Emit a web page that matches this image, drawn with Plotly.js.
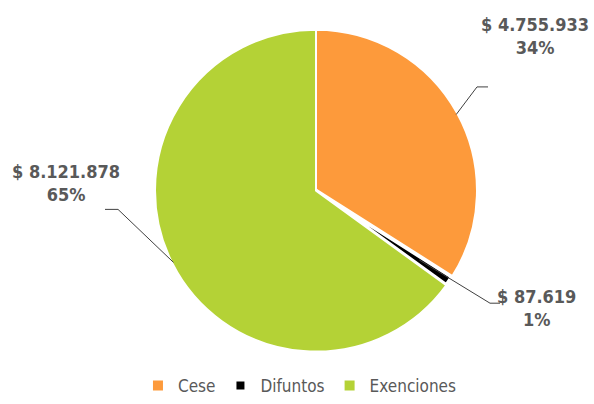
<!DOCTYPE html>
<html><head><meta charset="utf-8">
<script src="https://cdn.plot.ly/plotly-3.0.1.min.js"></script>
<style>html,body{margin:0;padding:0;background:#fff}#chart{width:594px;height:404px}</style>
</head><body><div id="chart"></div>
<script>
const categories = ["Cese", "Difuntos", "Exenciones"];
const amounts = [4755933, 87619, 8121878];
const percents = [34, 1, 65];
const colors = ["#FD9A3B", "#000000", "#B4D236"];

const W = 594, H = 404;
const cx = 316, cy = 193, R = 160;
const FONT = "'Liberation Sans Narrow', 'Arial Narrow', 'DejaVu Sans Condensed', 'Liberation Sans', Arial, sans-serif";

function fmt(n){ return "$ " + n.toString().replace(/\B(?=(\d{3})+(?!\d))/g, "."); }
const px = x => x / W, py = y => 1 - y / H;

const labelPos = [
  {x: 535, y: 36, elbow: [477, 88], end: [488, 88], r0: 1.0},
  {x: 536, y: 312, elbow: [490, 307], end: [500, 307], r0: 0.78},
  {x: 66, y: 185, elbow: [118, 212], end: [105, 212], r0: 1.0}
];

const total = percents.reduce((a,b)=>a+b,0);
let cum = 0;
const shapes = [], annotations = [];
percents.forEach((p, i) => {
  const mid = (cum + p/2) / total * 2 * Math.PI;
  cum += p;
  const lp = labelPos[i];
  const sx = cx + R * lp.r0 * Math.sin(mid), sy = cy - R * lp.r0 * Math.cos(mid);
  shapes.push({type: "path", xref: "paper", yref: "paper",
    path: `M ${px(sx)} ${py(sy)} L ${px(lp.elbow[0])} ${py(lp.elbow[1])} L ${px(lp.end[0])} ${py(lp.end[1])}`,
    line: {color: "#404040", width: 1}});
  annotations.push({xref: "paper", yref: "paper", x: px(lp.x), y: py(lp.y),
    xanchor: "center", yanchor: "middle", showarrow: false, align: "center",
    text: "<b>" + fmt(amounts[i]) + "<br>" + percents[i] + "%</b>",
    font: {family: FONT, size: 18, color: "#595959"}});
});

const Rd = 163;
const data = [{
  type: "pie",
  labels: categories,
  values: percents,
  sort: false,
  direction: "clockwise",
  rotation: 0,
  textinfo: "none",
  hoverinfo: "label+value",
  marker: {colors: colors, line: {color: "#ffffff", width: [2, 4, 2]}},
  domain: {x: [px(cx - Rd), px(cx + Rd)], y: [py(cy + Rd), py(cy - Rd)]}
}];

const layout = {
  width: W, height: H,
  margin: {l: 0, r: 0, t: 0, b: 0},
  paper_bgcolor: "#ffffff",
  showlegend: true,
  legend: {orientation: "h", x: 0.505, xanchor: "center", y: py(391), yanchor: "middle",
    font: {family: FONT, size: 17, color: "#595959"}, itemwidth: 30, tracegroupgap: 0},
  shapes: shapes,
  annotations: annotations
};

Plotly.newPlot("chart", data, layout, {displayModeBar: false, staticPlot: true});
</script></body></html>
